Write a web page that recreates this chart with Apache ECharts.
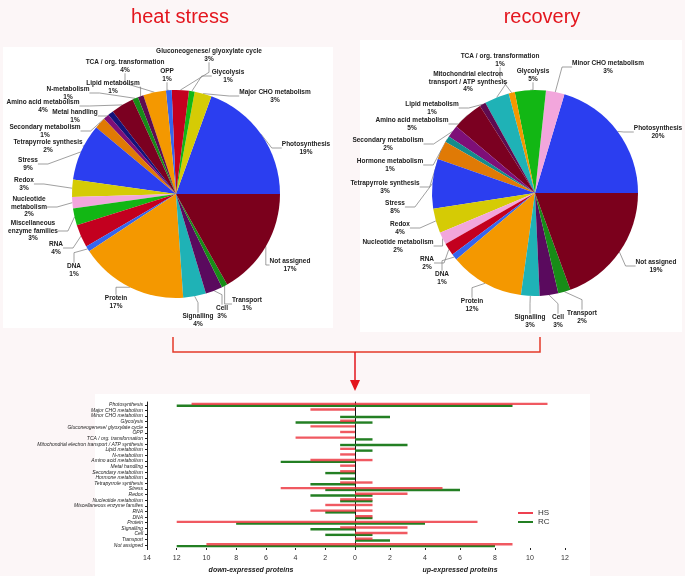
<!DOCTYPE html>
<html>
<head>
<meta charset="utf-8">
<script src="https://cdn.jsdelivr.net/npm/echarts@6/dist/echarts.min.js"></script>
<style>
  html, body { margin: 0; padding: 0; background: #fcf6f7; }
  #chart { width: 685px; height: 576px; }
</style>
</head>
<body>
<div id="chart"></div>
<script>
// functional bins, top to bottom in the bar chart
const categories = [
  "Photosynthesis", "Major CHO metabolism", "Minor CHO metabolism", "Glycolysis",
  "Gluconeogenese/ glyoxylate cycle", "OPP", "TCA / org. transformation",
  "Mitochondrial electron transport / ATP synthesis", "Lipid metabolism", "N-metabolism",
  "Amino acid metabolism", "Metal handling", "Secondary metabolism", "Hormone metabolism",
  "Tetrapyrrole synthesis", "Stress", "Redox", "Nucleotide metabolism",
  "Miscellaneous enzyme families", "RNA", "DNA", "Protein", "Signalling", "Cell",
  "Transport", "Not assigned"
];

// number of proteins per bin
const hsDown = [11, 3, 0, 1, 3, 1, 4, 0, 1, 1, 3, 1, 1, 0, 1, 5, 0, 1, 2, 3, 0, 12, 1, 0, 0, 10];
const hsUp   = [11, 0, 0, 0, 0, 0, 0, 0, 0, 0, 1, 0, 0, 0, 1, 5, 3, 1, 1, 1, 1, 7, 3, 3, 1, 9];
const rcDown = [12, 0, 1, 4, 0, 0, 0, 1, 0, 0, 5, 0, 2, 1, 3, 2, 3, 1, 0, 2, 0, 8, 3, 2, 0, 12];
const rcUp   = [9, 0, 2, 1, 0, 0, 1, 3, 1, 0, 0, 0, 0, 0, 0, 6, 1, 1, 0, 0, 1, 4, 0, 1, 2, 8];

const downTicks = [0, 2, 4, 6, 8, 10, 12, 14];
const upTicks = [0, 2, 4, 6, 8, 10, 12];

const sliceColors = [
  "#2b3ef0", "#d5cb05", "#f2a6dc", "#12b714", "#c3001f", "#3565ee", "#f49800",
  "#1fb2b6", "#5e0b50", "#178c17", "#7b0021", "#14137a", "#7e0f78", "#148c8c",
  "#e07a05", "#2b3ef0", "#d5cb05", "#f2a6dc", "#12b714", "#c3001f", "#3565ee",
  "#f49800", "#1fb2b6", "#5a0a5e", "#178c17", "#7b001c"
];

// label text and where each label sits, per pie
const hsLabels = {
  "Photosynthesis": [306, 148], "Major CHO metabolism": [275, 96], "Glycolysis": [228, 76],
  "Gluconeogenese/ glyoxylate cycle": [209, 55], "OPP": [167, 75], "TCA / org. transformation": [125, 66],
  "Lipid metabolism": [113, 87], "N-metabolism": [68, 93], "Amino acid metabolism": [43, 106],
  "Metal handling": [75, 116], "Secondary metabolism": [45, 131], "Tetrapyrrole synthesis": [48, 146],
  "Stress": [28, 164], "Redox": [24, 184], "Nucleotide metabolism": [29, 207, "Nucleotide\nmetabolism"],
  "Miscellaneous enzyme families": [33, 231, "Miscellaneous\nenzyme families"], "RNA": [56, 248],
  "DNA": [74, 270], "Protein": [116, 302], "Signalling": [198, 320], "Cell": [222, 312],
  "Transport": [247, 304], "Not assigned": [290, 265]
};
const rcLabels = {
  "Photosynthesis": [658, 132], "Minor CHO metabolism": [608, 67], "Glycolysis": [533, 75],
  "TCA / org. transformation": [500, 60],
  "Mitochondrial electron transport / ATP synthesis": [468, 82, "Mitochondrial electron\ntransport / ATP synthesis"],
  "Lipid metabolism": [432, 108], "Amino acid metabolism": [412, 124], "Secondary metabolism": [388, 144],
  "Hormone metabolism": [390, 165], "Tetrapyrrole synthesis": [385, 187], "Stress": [395, 207],
  "Redox": [400, 228], "Nucleotide metabolism": [398, 246], "RNA": [427, 263], "DNA": [442, 278],
  "Protein": [472, 305], "Signalling": [530, 321], "Cell": [558, 321], "Transport": [582, 317],
  "Not assigned": [656, 266]
};

function pieData(down, up) {
  const out = [];
  categories.forEach((c, i) => {
    const v = down[i] + up[i];
    if (v > 0) out.push({ name: c, value: v, itemStyle: { color: sliceColors[i] } });
  });
  return out;
}

function pieSeries(data, center, radius, labels) {
  const total = data.reduce((s, d) => s + d.value, 0);
  return {
    type: "pie",
    center: center,
    radius: radius,
    startAngle: 0,
    clockwise: false,
    animation: false,
    data: data,
    itemStyle: { borderWidth: 0 },
    label: {
      overflow: "none",
      formatter: (p) => {
        const l = labels[p.name];
        const n = ((l && l[2]) || p.name).split("\n");
        return n.map((s) => "{c|" + s + "}").join("\n") + "\n{c|" + Math.round(p.value / total * 100) + "%}";
      },
      rich: { c: { align: "center", fontSize: 6.5, fontWeight: "bold", color: "#222", lineHeight: 7.6, fontFamily: "Liberation Sans" } }
    },
    labelLine: { length: 8, length2: 10, lineStyle: { color: "#777", width: 0.7 } },
    labelLayout: (params) => {
      const l = labels[data[params.dataIndex].name];
      return { x: l[0], y: l[1], align: "center", verticalAlign: "middle" };
    }
  };
}

const chart = echarts.init(document.getElementById("chart"), null, { renderer: "canvas" });

const axisText = { fontSize: 7, color: "#333", fontFamily: "Liberation Sans" };
const nameText = { fontSize: 7, fontStyle: "italic", fontWeight: "bold", color: "#222", fontFamily: "Liberation Sans" };

chart.setOption({
  backgroundColor: "#fcf6f7",
  animation: false,
  title: [
    { text: "heat stress", left: 175, top: 2, textAlign: "center",
      textStyle: { fontSize: 20, fontWeight: "normal", color: "#e3161e", fontFamily: "Liberation Sans" } },
    { text: "recovery", left: 537, top: 2, textAlign: "center",
      textStyle: { fontSize: 20, fontWeight: "normal", color: "#e3161e", fontFamily: "Liberation Sans" } }
  ],
  graphic: [
    { type: "rect", shape: { x: 3, y: 47, width: 330, height: 281 }, style: { fill: "#ffffff" }, z: -10 },
    { type: "rect", shape: { x: 360, y: 40, width: 322, height: 292 }, style: { fill: "#ffffff" }, z: -10 },
    { type: "rect", shape: { x: 95, y: 394, width: 495, height: 182 }, style: { fill: "#ffffff" }, z: -10 },
    { type: "polyline", shape: { points: [[173, 337], [173, 352], [540, 352], [540, 337]] },
      style: { stroke: "#e33a2a", lineWidth: 1.5, fill: null } },
    { type: "line", shape: { x1: 355, y1: 352, x2: 355, y2: 382 }, style: { stroke: "#e3161e", lineWidth: 1.5 } },
    { type: "polygon", shape: { points: [[350, 380], [360, 380], [355, 391]] }, style: { fill: "#e3161e" } }
  ],
  legend: {
    left: 513, top: 504, orient: "vertical", itemWidth: 15, itemHeight: 2, itemGap: 1,
    icon: "rect", textStyle: { fontSize: 8, color: "#333", fontFamily: "Liberation Sans" },
    data: [{ name: "HS", itemStyle: { color: "#ee4050" } }, { name: "RC", itemStyle: { color: "#237f23" } }]
  },
  grid: [
    { left: 147, width: 208, top: 402, height: 146 },
    { left: 355, width: 210, top: 402, height: 146 }
  ],
  xAxis: [
    { gridIndex: 0, type: "value", inverse: true, min: downTicks[0], max: downTicks[downTicks.length - 1], interval: 2,
      splitLine: { show: false }, axisLine: { lineStyle: { color: "#222" } },
      axisTick: { show: true, length: 2, lineStyle: { color: "#222" } },
      axisLabel: Object.assign({ margin: 7, showMinLabel: false }, axisText),
      name: "down-expressed proteins", nameLocation: "middle", nameGap: 19, nameTextStyle: nameText },
    { gridIndex: 1, type: "value", min: upTicks[0], max: upTicks[upTicks.length - 1], interval: 2,
      splitLine: { show: false }, axisLine: { lineStyle: { color: "#222" } },
      axisTick: { show: true, length: 2, lineStyle: { color: "#222" } },
      axisLabel: Object.assign({ margin: 7 }, axisText),
      name: "up-expressed proteins", nameLocation: "middle", nameGap: 19, nameTextStyle: nameText }
  ],
  yAxis: [
    { gridIndex: 0, type: "category", data: categories, inverse: true, position: "left",
      axisLine: { onZero: false, lineStyle: { color: "#222" } },
      axisTick: { show: true, length: 2, alignWithLabel: true, lineStyle: { color: "#222" } },
      axisLabel: { interval: 0, margin: 4, fontSize: 5, fontStyle: "italic", color: "#222",
        fontFamily: "Liberation Sans", lineHeight: 5 } },
    { gridIndex: 1, type: "category", data: categories, inverse: true, position: "left",
      axisLine: { onZero: false, lineStyle: { color: "#111" } },
      axisTick: { show: false }, axisLabel: { show: false } }
  ],
  series: [
    { name: "HS", type: "bar", xAxisIndex: 0, yAxisIndex: 0, data: hsDown, barWidth: 2.4, barGap: "-25%",
      itemStyle: { color: "rgba(236,48,58,0.8)" }, z: 3 },
    { name: "RC", type: "bar", xAxisIndex: 0, yAxisIndex: 0, data: rcDown, barWidth: 2.4,
      itemStyle: { color: "#237f23" }, z: 2 },
    { name: "HS", type: "bar", xAxisIndex: 1, yAxisIndex: 1, data: hsUp, barWidth: 2.4, barGap: "-25%",
      itemStyle: { color: "rgba(236,48,58,0.8)" }, z: 3 },
    { name: "RC", type: "bar", xAxisIndex: 1, yAxisIndex: 1, data: rcUp, barWidth: 2.4,
      itemStyle: { color: "#237f23" }, z: 2 },
    pieSeries(pieData(hsDown, hsUp), [176, 194], 104, hsLabels),
    pieSeries(pieData(rcDown, rcUp), [535, 193], 103, rcLabels)
  ]
});
</script>
</body>
</html>
